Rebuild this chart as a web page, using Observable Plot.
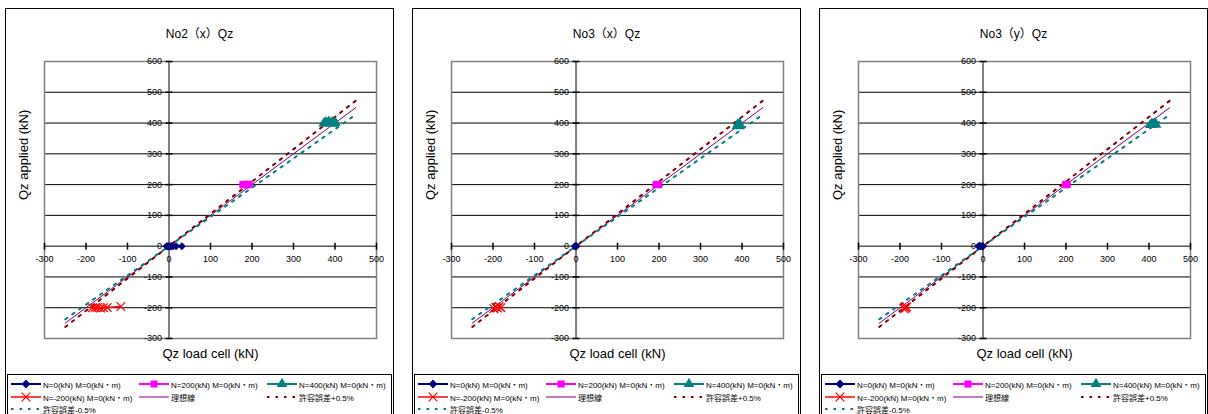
<!DOCTYPE html>
<html><head><meta charset="utf-8">
<script src="https://cdn.jsdelivr.net/npm/d3@7"></script>
<script src="https://cdn.jsdelivr.net/npm/@observablehq/plot@0.6"></script>
<style>
body{margin:0;background:#fff;}
#root{position:relative;width:1208px;height:414px;overflow:hidden;font-family:"Liberation Sans","Noto Sans CJK JP",sans-serif;background:#fff;}
.pborder{position:absolute;top:8px;width:389px;height:430px;border:1px solid #000;box-sizing:border-box;}
.pwrap{position:absolute;top:8px;width:388px;height:365px;}
.legend{position:absolute;top:374px;width:385px;height:50px;border:1px solid #000;box-sizing:border-box;background:#fff;}
.litem{position:absolute;display:flex;align-items:center;height:12px;font-size:8px;color:#000;white-space:nowrap;}
.litem svg{display:block;margin-right:1px;}
</style>
</head><body><div id="root"></div>
<script>
// ---------- shared text & ticks ----------
const titles = ["No2（x）Qz", "No3（x）Qz", "No3（y）Qz"];
const xLabel = "Qz load cell (kN)";
const yLabel = "Qz applied (kN)";
const xTicks = [-300, -200, -100, 0, 100, 200, 300, 400, 500];
const yTicks = [-300, -200, -100, 0, 100, 200, 300, 400, 500, 600];
const gridY = [-200, -100, 0, 100, 200, 300, 400, 500];
const seriesNames = ["N=0(kN) M=0(kN・m)", "N=200(kN) M=0(kN・m)", "N=400(kN) M=0(kN・m)",
  "N=-200(kN) M=0(kN・m)", "理想線", "許容誤差+0.5%", "許容誤差-0.5%"];

// ---------- reference lines ----------
const idealX = [-250, 450];
const idealY = [-250, 450];
const tolPlusX = [-250, 450];
const tolPlusY = [-262.5, 472.5];
const tolMinusX = [-250, 450];
const tolMinusY = [-237.5, 427.5];

// ---------- No2 (x) ----------
const a_n0_x = [-6, -3, 0, 3, 6, 10, 17, 31];
const a_n0_y = [0, 0, 0, 0, 0, 0, 0, 0];
const a_n200_x = [178, 182, 186, 190, 193];
const a_n200_y = [200, 201, 199, 200, 201];
const a_n400_x = [373, 377, 381, 385, 389, 393, 397, 401];
const a_n400_y = [399, 403, 400, 404, 399, 403, 398, 401];
const a_nm200_x = [-185, -178, -172, -165, -158, -149, -116];
const a_nm200_y = [-200, -200, -199, -201, -200, -199, -196];

// ---------- No3 (x) ----------
const b_n0_x = [-3, -1, 1];
const b_n0_y = [0, 0, 0];
const b_n200_x = [193, 196, 199];
const b_n200_y = [200, 201, 200];
const b_n400_x = [388, 390, 392, 394];
const b_n400_y = [390, 396, 392, 398];
const b_nm200_x = [-198, -193, -189, -185, -181];
const b_nm200_y = [-203, -198, -201, -196, -200];

// ---------- No3 (y) ----------
const c_n0_x = [-11, -8, -5, -2, 0];
const c_n0_y = [0, 1, 0, -1, 0];
const c_n200_x = [199, 201, 203];
const c_n200_y = [200, 200, 201];
const c_n400_x = [403, 407, 410, 414, 417];
const c_n400_y = [394, 398, 396, 399, 395];
const c_nm200_x = [-190, -188, -186, -184];
const c_nm200_y = [-203, -198, -201, -197];

const colors = {n0: "#000080", n200: "#FF00FF", n400: "#008080", nm200: "#FF0000",
  ideal: "#800080", tolPlus: "#800000", tolMinus: "#008080"};

const zip = (xs, ys) => xs.map((x, i) => ({x, y: ys[i]}));

const panels = [
  {left: 5, title: titles[0], n0: zip(a_n0_x, a_n0_y), n200: zip(a_n200_x, a_n200_y), n400: zip(a_n400_x, a_n400_y), nm200: zip(a_nm200_x, a_nm200_y)},
  {left: 412, title: titles[1], n0: zip(b_n0_x, b_n0_y), n200: zip(b_n200_x, b_n200_y), n400: zip(b_n400_x, b_n400_y), nm200: zip(b_nm200_x, b_nm200_y)},
  {left: 819, title: titles[2], n0: zip(c_n0_x, c_n0_y), n200: zip(c_n200_x, c_n200_y), n400: zip(c_n400_x, c_n400_y), nm200: zip(c_nm200_x, c_nm200_y)}
];

const vtick = {draw(ctx) { ctx.moveTo(0, -3.5); ctx.lineTo(0, 3.5); }};
const htick = {draw(ctx) { ctx.moveTo(-3.5, 0); ctx.lineTo(3.5, 0); }};
const dash = "2.5,6";

const root = document.getElementById("root");

panels.forEach(p => {
  const border = document.createElement("div");
  border.className = "pborder";
  border.style.left = p.left + "px";
  root.appendChild(border);

  const wrap = document.createElement("div");
  wrap.className = "pwrap";
  wrap.style.left = p.left + "px";

  const chart = Plot.plot({
    width: 388, height: 365,
    marginLeft: 39, marginRight: 17, marginTop: 53, marginBottom: 35,
    x: {domain: [-300, 500], axis: null},
    y: {domain: [-300, 600], axis: null},
    style: {fontFamily: "'Liberation Sans','Noto Sans CJK JP',sans-serif", background: "transparent", overflow: "visible"},
    marks: [
      Plot.ruleY(gridY, {stroke: "#000", strokeWidth: 1}),
      Plot.ruleX([0], {stroke: "#000", strokeWidth: 1}),
      Plot.frame({stroke: "#808080", strokeWidth: 1.5}),
      Plot.dot(xTicks, {x: d => d, y: 0, symbol: vtick, stroke: "#000", fill: "none", r: 4}),
      Plot.dot(yTicks, {x: 0, y: d => d, symbol: htick, stroke: "#000", fill: "none", r: 4}),
      Plot.text(xTicks, {x: d => d, y: 0, dy: 13, text: d => String(d), fontSize: 9, fill: "#000"}),
      Plot.text(yTicks, {x: 0, y: d => d, dx: -7, textAnchor: "end", text: d => String(d), fontSize: 9, fill: "#000"}),
      Plot.line(zip(idealX, idealY), {x: "x", y: "y", stroke: colors.ideal, strokeWidth: 1}),
      Plot.line(zip(tolPlusX, tolPlusY), {x: "x", y: "y", stroke: colors.tolPlus, strokeWidth: 2, strokeDasharray: dash}),
      Plot.line(zip(tolMinusX, tolMinusY), {x: "x", y: "y", stroke: colors.tolMinus, strokeWidth: 2, strokeDasharray: dash}),
      Plot.line(p.n0, {x: "x", y: "y", stroke: colors.n0, strokeWidth: 2}),
      Plot.dot(p.n0, {x: "x", y: "y", symbol: "diamond2", r: 3.6, fill: colors.n0}),
      Plot.line(p.n200, {x: "x", y: "y", stroke: colors.n200, strokeWidth: 2}),
      Plot.dot(p.n200, {x: "x", y: "y", symbol: "square", r: 4, fill: colors.n200}),
      Plot.line(p.n400, {x: "x", y: "y", stroke: colors.n400, strokeWidth: 2}),
      Plot.dot(p.n400, {x: "x", y: "y", symbol: "triangle", r: 4, fill: colors.n400}),
      Plot.line(p.nm200, {x: "x", y: "y", stroke: colors.nm200, strokeWidth: 1.5}),
      Plot.dot(p.nm200, {x: "x", y: "y", symbol: "times", r: 4, stroke: colors.nm200, strokeWidth: 1.2}),
      Plot.text([xLabel], {frameAnchor: "bottom", dy: 19, fontSize: 13, fill: "#000"}),
      Plot.text([yLabel], {frameAnchor: "left", dx: -21, rotate: -90, fontSize: 13, fill: "#000"}),
      Plot.text([p.title], {frameAnchor: "top", dy: -32, dx: -11, fontSize: 12, fill: "#000"})
    ]
  });
  wrap.appendChild(chart);
  root.appendChild(wrap);

  // legend
  const lg = document.createElement("div");
  lg.className = "legend";
  lg.style.left = (p.left + 2) + "px";
  const cols = [3, 131, 259];
  const rows = [3, 16, 28];
  const kinds = [
    {color: colors.n0, sym: "diamond2", w: 2},
    {color: colors.n200, sym: "square", w: 2},
    {color: colors.n400, sym: "triangle", w: 2},
    {color: colors.nm200, sym: "times", w: 1.5},
    {color: colors.ideal, sym: null, w: 1},
    {color: colors.tolPlus, sym: null, w: 2, dash: true},
    {color: colors.tolMinus, sym: null, w: 2, dash: true}
  ];
  seriesNames.forEach((name, i) => {
    const k = kinds[i];
    const item = document.createElement("div");
    item.className = "litem";
    item.style.left = cols[i % 3] + "px";
    item.style.top = rows[Math.floor(i / 3)] + "px";
    const ns = "http://www.w3.org/2000/svg";
    const sv = document.createElementNS(ns, "svg");
    sv.setAttribute("width", 31); sv.setAttribute("height", 12);
    const ln = document.createElementNS(ns, "line");
    ln.setAttribute("x1", 0); ln.setAttribute("x2", 30);
    ln.setAttribute("y1", 6); ln.setAttribute("y2", 6);
    ln.setAttribute("stroke", k.color); ln.setAttribute("stroke-width", k.w);
    if (k.dash) ln.setAttribute("stroke-dasharray", dash);
    sv.appendChild(ln);
    if (k.sym) {
      const symMap = {diamond2: d3.symbolDiamond2, square: d3.symbolSquare, triangle: d3.symbolTriangle, times: d3.symbolTimes};
      const path = document.createElementNS(ns, "path");
      path.setAttribute("d", d3.symbol(symMap[k.sym], Math.PI * 16)());
      path.setAttribute("transform", "translate(15,6)");
      if (k.sym === "times") { path.setAttribute("fill", "none"); path.setAttribute("stroke", k.color); path.setAttribute("stroke-width", 1.2); }
      else path.setAttribute("fill", k.color);
      sv.appendChild(path);
    }
    item.appendChild(sv);
    const sp = document.createElement("span");
    sp.textContent = name;
    item.appendChild(sp);
    lg.appendChild(item);
  });
  root.appendChild(lg);
});
</script>
</body></html>
